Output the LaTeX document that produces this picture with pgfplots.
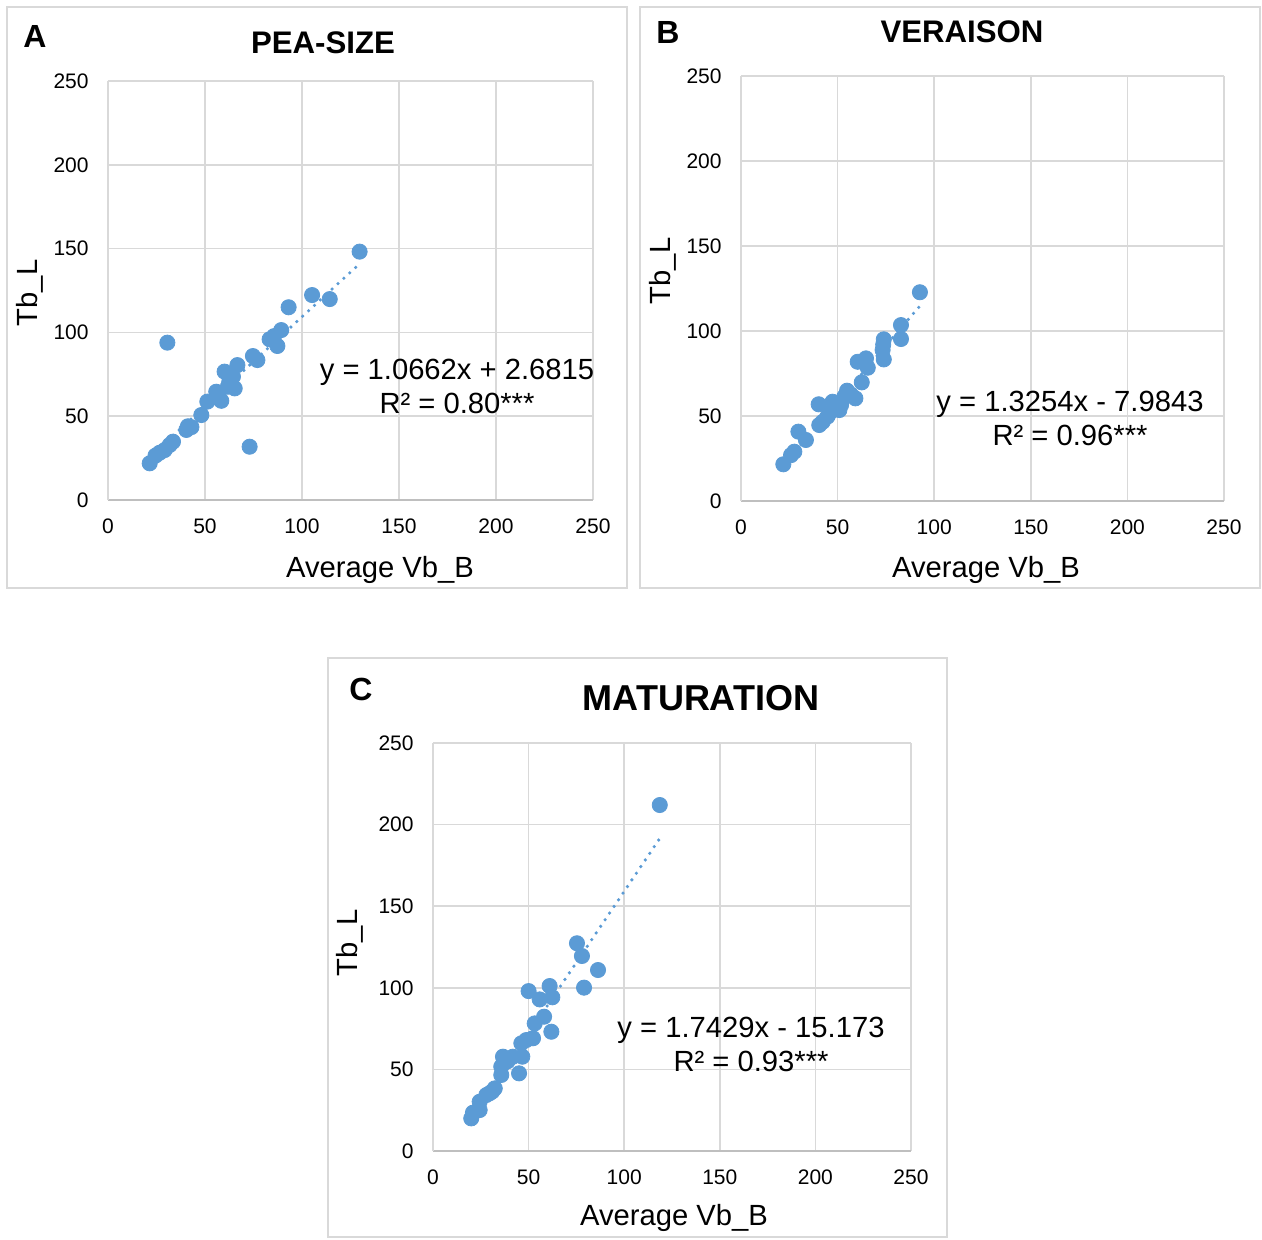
\documentclass[border=0pt]{standalone}
\usepackage{fontspec}
\setmainfont{Liberation Sans}
\usepackage{pgfplots}
\pgfplotsset{compat=1.18}
\definecolor{ptc}{HTML}{5B9BD5}
\definecolor{gridc}{HTML}{D9D9D9}
\definecolor{axc}{HTML}{BFBFBF}
\definecolor{framec}{HTML}{D9D9D9}
\pgfplotsset{
  panel/.style={
    scale only axis, anchor=south west,
    xmin=0, xmax=250, ymin=0, ymax=250,
    xtick={0,50,...,250}, ytick={0,50,...,250},
    axis lines=left,
    x axis line style={-, draw=axc, line width=0.8pt},
    y axis line style={-, draw=gridc, line width=0.8pt},
    major tick length=0pt,
    grid=major, grid style={draw=gridc, line width=0.8pt},
    /pgf/number format/assume math mode=true,
    tick label style={font=\fontsize{10.5}{12}\selectfont, black},
    yticklabel style={anchor=east, inner sep=0pt, xshift=-9.5pt},
    xticklabel style={anchor=north, inner sep=0pt, yshift=-9pt},
    clip=false,
  },
  pts/.style={only marks, mark=*, mark size=3.8pt, color=ptc, mark options={fill=ptc, draw=ptc}},
  trend/.style={no marks, color=ptc, line width=1.8pt, line cap=round, dash pattern=on 0pt off 4pt},
}
\newcommand{\eqfont}{\fontsize{14.6}{17}\selectfont}
\newcommand{\titfont}{\bfseries\fontsize{15.6}{18}\selectfont}
\newcommand{\letfont}{\bfseries\fontsize{16}{19}\selectfont}
\begin{document}
\begin{tikzpicture}[x=0.5pt,y=-0.5pt]
\path (0,0) rectangle (1262,1239);
% frames
\draw[framec, line width=0.75pt] (7,7) rectangle (627,588);
\draw[framec, line width=0.75pt] (640,7) rectangle (1260,588);
\draw[framec, line width=0.75pt] (328,658) rectangle (947,1237);

% ---------- A ----------
\begin{axis}[panel, at={(54pt,-250pt)}, width=242.5pt, height=209.5pt]
\addplot[pts] coordinates {
(21.5,21.9) (26.6,28.2) (29.2,29.8) (31.8,32.8) (33.5,34.8) (30.6,93.9)
(40.4,41.8) (41.2,44.0) (48.1,50.7) (51.2,58.7) (55.8,64.6) (58.4,59.2)
(60.1,76.6) (61.8,67.6) (65.3,66.6) (64.4,73.6) (66.7,80.5) (73.0,31.8)
(74.7,85.9) (77.0,83.5) (83.3,95.9) (87.3,91.9) (89.3,101.4) (85.6,97.8)
(93.1,115.0) (105.2,122.3) (114.3,119.9) (129.7,148.2)
(57.0,62.5) (62.5,70.5) (43.0,43.5) (24.5,26.5)
};
\addplot[trend] coordinates {(21.5,25.60) (129.7,140.97)};
\end{axis}
\node[anchor=base, font=\letfont] at (35,47) {A};
\node[anchor=base, font=\titfont] at (323,53) {PEA-SIZE};
\node[rotate=90, font=\eqfont] at (30,293) {Tb\_L};
\node[anchor=base, font=\eqfont] at (380,577) {Average Vb\_B};
\node[anchor=base, font=\eqfont] at (457,379) {y = 1.0662x + 2.6815};
\node[anchor=base, font=\eqfont] at (457,413) {R² = 0.80***};

% ---------- B ----------
\begin{axis}[panel, at={(370.5pt,-250.5pt)}, width=241.5pt, height=212.5pt]
\addplot[pts] coordinates {
(21.9,21.6) (25.9,27.0) (27.6,29.0) (29.7,40.8) (33.6,35.9) (40.2,56.9)
(40.5,44.7) (42.3,46.6) (44.7,49.6) (47.4,58.4) (49.2,54.5) (50.9,53.5)
(51.8,56.5) (54.9,64.9) (53.5,61.4) (59.2,60.4) (62.5,69.8) (60.4,81.9)
(64.7,83.9) (65.6,78.4) (73.9,95.1) (73.3,88.8) (73.9,83.3) (82.8,103.5)
(82.8,95.3) (92.6,122.8) (57.0,62.5) (46.0,52.0) (73.6,92.0)
};
\addplot[trend] coordinates {(21.9,21.04) (92.6,114.75)};
\end{axis}
\node[anchor=base, font=\letfont] at (668,43) {B};
\node[anchor=base, font=\titfont] at (962,42) {VERAISON};
\node[rotate=90, font=\eqfont] at (663,271) {Tb\_L};
\node[anchor=base, font=\eqfont] at (986,577) {Average Vb\_B};
\node[anchor=base, font=\eqfont] at (1070,411) {y = 1.3254x - 7.9843};
\node[anchor=base, font=\eqfont] at (1070,445) {R² = 0.96***};

% ---------- C ----------
\begin{axis}[panel, at={(216.5pt,-575.5pt)}, width=239pt, height=204pt]
\addplot[pts] coordinates {
(20.0,20.0) (20.9,23.5) (24.4,25.1) (24.4,30.2) (27.9,34.3) (29.6,35.4)
(32.3,38.4) (35.7,46.6) (35.7,51.7) (36.6,57.8) (41.8,57.8) (45.0,47.6)
(46.7,57.8) (46.2,66.0) (52.3,69.1) (48.8,68.0) (53.2,78.2) (58.1,82.3)
(61.9,73.1) (50.0,98.0) (55.8,92.9) (61.0,101.1) (62.4,94.2) (79.0,100.1)
(86.3,110.9) (75.3,127.3) (77.9,119.5) (118.6,212.0) (39.0,55.0) (31.0,36.5)
};
\addplot[trend] coordinates {(20.0,19.69) (118.6,191.54)};
\end{axis}
\node[anchor=base, font=\letfont] at (361,700) {C};
\node[anchor=base, font=\bfseries\fontsize{18}{21}\selectfont] at (701,710) {MATURATION};
\node[rotate=90, font=\eqfont] at (350,943) {Tb\_L};
\node[anchor=base, font=\eqfont] at (674,1225) {Average Vb\_B};
\node[anchor=base, font=\eqfont] at (751,1037) {y = 1.7429x - 15.173};
\node[anchor=base, font=\eqfont] at (751,1071) {R² = 0.93***};
\end{tikzpicture}
\end{document}
